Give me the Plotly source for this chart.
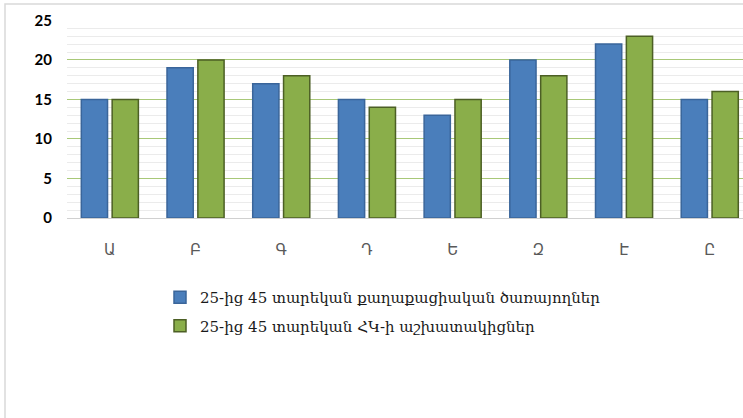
import plotly.graph_objects as go

categories = ["Ա", "Բ", "Գ", "Դ", "Ե", "Զ", "Է", "Ը"]
series_names = [
    "25-ից 45 տարեկան քաղաքացիական ծառայողներ",
    "25-ից 45 տարեկան ՀԿ-ի աշխատակիցներ",
]
civil_servants = [15, 19, 17, 15, 13, 20, 22, 15]
ngo_workers = [15, 20, 18, 14, 15, 18, 23, 16]
y_ticks = [0, 5, 10, 15, 20, 25]

fig = go.Figure()
fig.add_trace(go.Bar(
    x=categories, y=civil_servants, name=series_names[0], legendgroup="a",
    marker=dict(color="#4A7EBB", line=dict(color="#3A659A", width=1.5)),
))
fig.add_trace(go.Bar(
    x=categories, y=ngo_workers, name=series_names[1], legendgroup="b",
    marker=dict(color="#8AAE4A", line=dict(color="#4C5F25", width=1.5)),
))

L, T = 67, 20
W, H = 743, 418
plot_w = W - L
plot_h = 218 - T

fig.update_layout(
    width=W, height=H,
    margin=dict(l=L, r=0, t=T, b=H - 218),
    paper_bgcolor="white", plot_bgcolor="white",
    barmode="group", bargap=0.28, bargroupgap=0.15,
    showlegend=True,
    legend=dict(
        x=(160 - L) / plot_w, y=(218 - 281) / plot_h,
        xanchor="left", yanchor="top",
        font=dict(family="DejaVu Serif", size=15, color="#1a1a1a"),
        traceorder="grouped", tracegroupgap=6,
        bgcolor="rgba(0,0,0,0)",
    ),
    xaxis=dict(
        type="category",
        range=[-0.5, -0.5 + plot_w / 85.7],
        showgrid=False, zeroline=False,
        showline=True, linecolor="#D0D0D0", linewidth=1,
        ticks="", ticklabelstandoff=18,
        tickfont=dict(family="DejaVu Sans", size=15, color="#595959"),
    ),
    yaxis=dict(
        range=[0, 25.05],
        tickvals=y_ticks,
        showgrid=True, gridcolor="#A8C878", gridwidth=1,
        minor=dict(dtick=1, showgrid=True, gridcolor="#EBEBEB", gridwidth=1),
        zeroline=False, showline=False,
        ticks="", ticklabelstandoff=14,
        tickfont=dict(family="Lato", size=15, color="black", weight="bold"),
    ),
    shapes=[dict(
        type="rect", xref="paper", yref="paper",
        x0=(5 - L) / plot_w, x1=(W + 5 - L) / plot_w,
        y0=(218 - (H + 5)) / plot_h, y1=(218 - 4) / plot_h,
        line=dict(color="#D9D9D9", width=1.5), fillcolor="rgba(0,0,0,0)",
        layer="below",
    )],
)

fig.write_html("out.html")
